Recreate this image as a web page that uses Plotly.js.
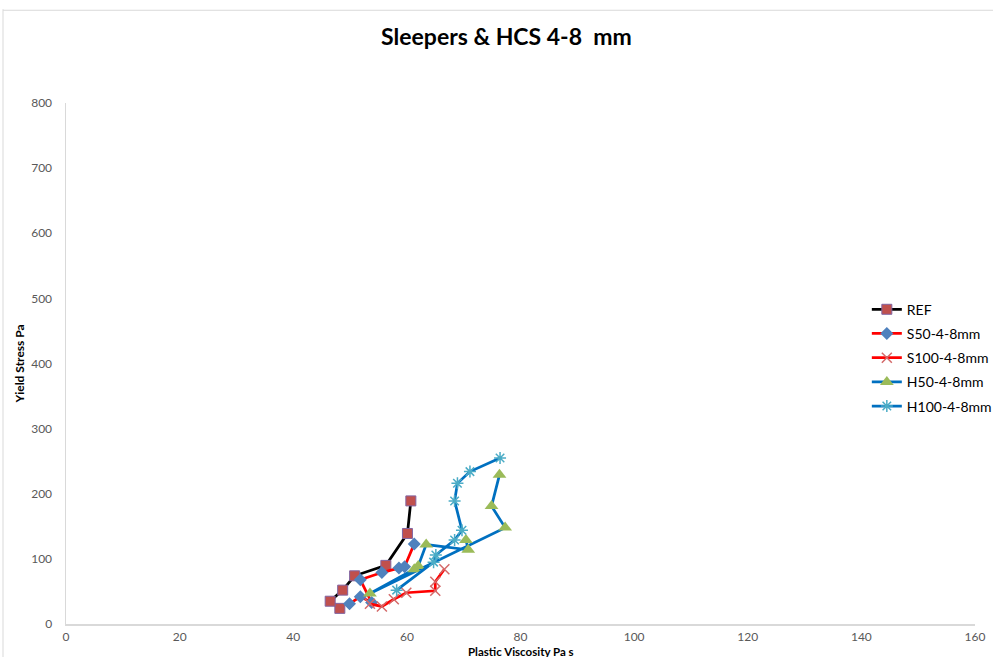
<!DOCTYPE html>
<html>
<head>
<meta charset="utf-8">
<script src="https://cdn.plot.ly/plotly-3.0.1.min.js"></script>
<style>html,body{margin:0;padding:0;background:#fff;}#chart{width:993px;height:657px;}</style>
</head>
<body>
<div id="chart"></div>
<script>
// Series data
var seriesNames = ["REF", "S50-4-8mm", "S100-4-8mm", "H50-4-8mm", "H100-4-8mm"];

var refX = [48.2, 46.5, 48.7, 50.8, 56.3, 60.1, 60.7];
var refY = [24, 35, 52, 74, 90, 139, 189];

var s50X = [49.9, 51.8, 53.8, 51.8, 55.6, 58.6, 59.6, 61.3];
var s50Y = [31, 42, 33, 68, 79, 86, 88, 123];

var s100X = [53.5, 55.6, 57.7, 59.9, 65.0, 65.0, 66.6];
var s100Y = [31, 27, 38, 48, 51, 65, 84];

var h50X = [70.4, 70.8, 63.4, 62.0, 61.3, 53.5, 77.3, 74.9, 76.3];
var h50Y = [129, 114, 122, 89, 84, 47, 148, 181, 229];

var h100X = [58.2, 64.7, 65.1, 68.4, 69.7, 68.4, 68.9, 71.1, 76.4];
var h100Y = [52, 95, 106, 129, 144, 189, 216, 234, 255];

var xTicks = [0, 20, 40, 60, 80, 100, 120, 140, 160];
var yTicks = [0, 100, 200, 300, 400, 500, 600, 700, 800];

var xTitle = "Plastic Viscosity Pa s";
var yTitle = "Yield Stress Pa";

var traces = [
  {x: refX, y: refY, name: seriesNames[0], mode: "lines+markers", legendgroup: "a",
   line: {color: "#000000", width: 2.75},
   marker: {symbol: "square", size: 10, color: "#C0504D", line: {color: "#8064A2", width: 1}}},
  {x: s50X, y: s50Y, name: seriesNames[1], mode: "lines+markers", legendgroup: "b",
   line: {color: "#FF0000", width: 2.75},
   marker: {symbol: "diamond", size: 10, color: "#4F81BD", line: {width: 0}}},
  {x: s100X, y: s100Y, name: seriesNames[2], mode: "lines+markers", legendgroup: "c",
   line: {color: "#FF0000", width: 2.75},
   marker: {symbol: "x-thin-open", size: 10, color: "#D46A6A", line: {color: "#C0504D", width: 1.5}}},
  {x: h50X, y: h50Y, name: seriesNames[3], mode: "lines+markers", legendgroup: "d",
   line: {color: "#0070C0", width: 2.75},
   marker: {symbol: "triangle-up", size: 12, color: "#9BBB59", line: {width: 0}}},
  {x: h100X, y: h100Y, name: seriesNames[4], mode: "lines+markers", legendgroup: "e",
   line: {color: "#0070C0", width: 2.75},
   marker: {symbol: "asterisk-open", size: 10, color: "#4BACC6", line: {color: "#4BACC6", width: 1.5}}}
];

var fontFam = "Lato, 'Open Sans', 'Liberation Sans', sans-serif";

var layout = {
  width: 993, height: 657,
  margin: {l: 66, r: 18, t: 103, b: 33, pad: 0, autoexpand: false},
  paper_bgcolor: "#ffffff", plot_bgcolor: "#ffffff",
  font: {family: fontFam, size: 12, color: "#595959"},
  title: {text: "<b>Sleepers &amp; HCS 4-8  mm</b>", x: 0.51, xanchor: "center", y: 0.944, yanchor: "middle",
          font: {family: fontFam, size: 23, color: "#000000"}},
  showlegend: true,
  legend: {x: 0.881, xanchor: "left", y: 0.634, yanchor: "top", traceorder: "grouped", tracegroupgap: 3,
           font: {family: fontFam, size: 14, color: "#000000"}, bgcolor: "rgba(0,0,0,0)"},
  xaxis: {range: [0, 160], tickmode: "array", tickvals: xTicks, showgrid: false, zeroline: false,
          showline: true, linecolor: "#D9D9D9", linewidth: 2, ticks: "", fixedrange: true,
          ticklabelstandoff: 1, automargin: false,
          tickfont: {family: fontFam, size: 12, color: "#595959"}},
  yaxis: {range: [0, 800], tickmode: "array", tickvals: yTicks, showgrid: false, zeroline: false,
          showline: true, linecolor: "#D9D9D9", linewidth: 1.5, ticks: "", fixedrange: true,
          ticklabelstandoff: 10, automargin: false,
          tickfont: {family: fontFam, size: 12, color: "#595959"},
          title: {text: "<b>" + yTitle + "</b>", standoff: 4, font: {family: fontFam, size: 12, color: "#000000"}}},
  annotations: [
    {text: "<b>" + xTitle + "</b>", xref: "paper", yref: "paper", x: 0.5005, y: -0.0525,
     xanchor: "center", yanchor: "middle", showarrow: false,
     font: {family: fontFam, size: 11.5, color: "#000000"}}
  ],
  shapes: [
    {type: "line", xref: "paper", yref: "paper", x0: -0.0693, x1: -0.0693, y0: -0.08, y1: 1.18,
     line: {color: "#D9D9D9", width: 1}},
    {type: "line", xref: "paper", yref: "paper", x0: -0.0693, x1: 1.02, y0: 1.178, y1: 1.178,
     line: {color: "#D9D9D9", width: 1}}
  ]
};

Plotly.newPlot("chart", traces, layout, {staticPlot: true, displayModeBar: false});
</script>
</body>
</html>
